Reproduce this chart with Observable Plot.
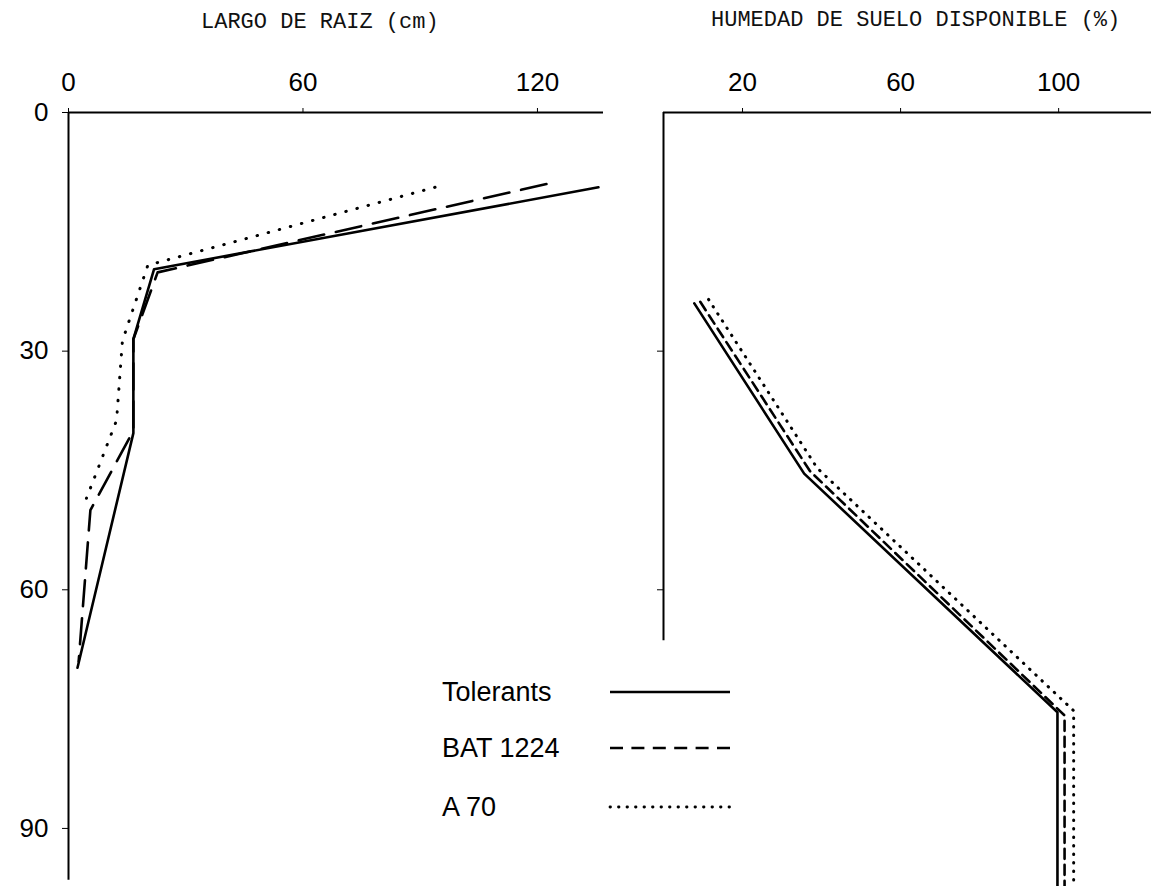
<!DOCTYPE html>
<html>
<head>
<meta charset="utf-8">
<script src="https://cdn.jsdelivr.net/npm/d3@7"></script>
<script src="https://cdn.jsdelivr.net/npm/@observablehq/plot@0.6"></script>
<style>
  html, body { margin: 0; padding: 0; background: #fff; }
  #wrap { position: relative; width: 1151px; height: 886px; overflow: hidden; background: #fff; }
  .ttl { position: absolute; font-family: "Liberation Mono", "DejaVu Sans Mono", monospace; font-size: 22px; line-height: 26px; color: #111; white-space: nowrap; }
  .leg { position: absolute; font-family: "Liberation Sans", Arial, sans-serif; font-size: 27px; line-height: 30px; color: #000; white-space: nowrap; }
</style>
</head>
<body>
<div id="wrap"></div>
<script>
// ---------- data ----------
const seriesNames = ["Tolerants", "BAT 1224", "A 70"];
const yTicks = [0, 30, 60, 90];
const leftXTicks = [0, 60, 120];
const rightXTicks = [20, 60, 100];
const rightYTicks = [30, 60];

// Left panel: root length (cm) vs depth
const rootTolX = [135.6, 21.9, 16.6, 16.6, 2.3];
const rootTolY = [9.4, 19.7, 28.5, 40.3, 69.8];
const rootBatX = [122.3, 22.8, 16.6, 16.6, 5.6, 2.6];
const rootBatY = [9.0, 20.1, 28.5, 40.0, 50.0, 69.0];
const rootA70X = [93.8, 20.3, 13.8, 12.3, 4.6];
const rootA70Y = [9.4, 19.2, 28.7, 38.7, 48.5];

// Right panel: available soil moisture (%) vs depth
const humTolX = [7.8, 35.6, 99.7, 99.7];
const humTolY = [24.0, 45.4, 75.4, 97.3];
const humBatX = [9.3, 37.1, 101.5, 101.5];
const humBatY = [23.8, 45.1, 75.8, 97.3];
const humA70X = [11.4, 38.9, 103.8, 103.8];
const humA70Y = [23.5, 44.7, 75.2, 97.3];

const zip = (xs, ys) => xs.map((x, i) => ({x, y: ys[i]}));

const styles = {
  "Tolerants": {strokeWidth: 2.6},
  "BAT 1224": {strokeWidth: 2.6, strokeDasharray: "26,12"},
  "A 70": {strokeWidth: 3, strokeDasharray: "0.5,11", strokeLinecap: "round"}
};
const stylesR = {
  "Tolerants": {strokeWidth: 2.6},
  "BAT 1224": {strokeWidth: 2.6, strokeDasharray: "10,6"},
  "A 70": {strokeWidth: 3, strokeDasharray: "0.5,8", strokeLinecap: "round"}
};

const svgStyle = "font-family: 'Liberation Sans', Arial, Helvetica, sans-serif; font-size: 26px; color: #000; background: transparent; overflow: visible; position: absolute; top: 0px;";
const yDomain = [0, 97.3];

const left = Plot.plot({
  width: 610, height: 886,
  marginLeft: 68, marginRight: 7, marginTop: 112, marginBottom: 0,
  style: svgStyle + " left: 0px;",
  x: {domain: [0, 136.9]},
  y: {domain: yDomain, reverse: true},
  marks: [
    Plot.ruleY([0], {strokeWidth: 2}),
    Plot.ruleX([0], {y1: 0, y2: 96.5, strokeWidth: 2}),
    Plot.axisX({anchor: "top", ticks: leftXTicks, tickSize: 5, tickPadding: 17, label: null, fontSize: 26}),
    Plot.axisY({anchor: "left", ticks: yTicks, tickSize: 6, tickPadding: 14, label: null, fontSize: 26}),
    Plot.line(zip(rootTolX, rootTolY), {x: "x", y: "y", stroke: "#000", ...styles["Tolerants"]}),
    Plot.line(zip(rootBatX, rootBatY), {x: "x", y: "y", stroke: "#000", ...styles["BAT 1224"]}),
    Plot.line(zip(rootA70X, rootA70Y), {x: "x", y: "y", stroke: "#000", ...styles["A 70"]})
  ]
});

const right = Plot.plot({
  width: 541, height: 886,
  marginLeft: 53, marginRight: 0, marginTop: 112, marginBottom: 0,
  style: svgStyle + " left: 610px;",
  x: {domain: [0, 123.5]},
  y: {domain: yDomain, reverse: true},
  marks: [
    Plot.ruleY([0], {strokeWidth: 2}),
    Plot.ruleX([0], {y1: 0, y2: 66.4, strokeWidth: 2}),
    Plot.axisX({anchor: "top", ticks: rightXTicks, tickSize: 5, tickPadding: 17, label: null, fontSize: 26}),
    Plot.axisY({anchor: "left", ticks: rightYTicks, tickSize: 6, tickFormat: () => "", label: null}),
    Plot.line(zip(humTolX, humTolY), {x: "x", y: "y", stroke: "#000", ...stylesR["Tolerants"]}),
    Plot.line(zip(humBatX, humBatY), {x: "x", y: "y", stroke: "#000", ...stylesR["BAT 1224"]}),
    Plot.line(zip(humA70X, humA70Y), {x: "x", y: "y", stroke: "#000", ...stylesR["A 70"]})
  ]
});

const wrap = document.getElementById("wrap");
wrap.appendChild(left);
wrap.appendChild(right);

// titles
const t1 = document.createElement("div");
t1.className = "ttl"; t1.textContent = "LARGO DE RAIZ (cm)";
t1.style.left = "201px"; t1.style.top = "10px";
wrap.appendChild(t1);
const t2 = document.createElement("div");
t2.className = "ttl"; t2.textContent = "HUMEDAD DE SUELO DISPONIBLE (%)";
t2.style.left = "711px"; t2.style.top = "8px";
wrap.appendChild(t2);

// legend
const legY = [692, 748, 807];
const legDash = {"Tolerants": null, "BAT 1224": "13,8.4", "A 70": "0.5,8"};
seriesNames.forEach((name, i) => {
  const d = document.createElement("div");
  d.className = "leg"; d.textContent = name;
  d.style.left = "442px"; d.style.top = (legY[i] - 15) + "px";
  wrap.appendChild(d);
  const s = d3.create("svg").attr("width", 130).attr("height", 12)
    .style("position", "absolute").style("left", "605px").style("top", (legY[i] - 6) + "px");
  const ln = s.append("line").attr("x1", 5).attr("x2", 125).attr("y1", 6).attr("y2", 6)
    .attr("stroke", "#000").attr("stroke-width", name === "A 70" ? 2.8 : 2.6);
  if (legDash[name]) ln.attr("stroke-dasharray", legDash[name]);
  if (name === "A 70") ln.attr("stroke-linecap", "round");
  wrap.appendChild(s.node());
});
</script>
</body>
</html>
